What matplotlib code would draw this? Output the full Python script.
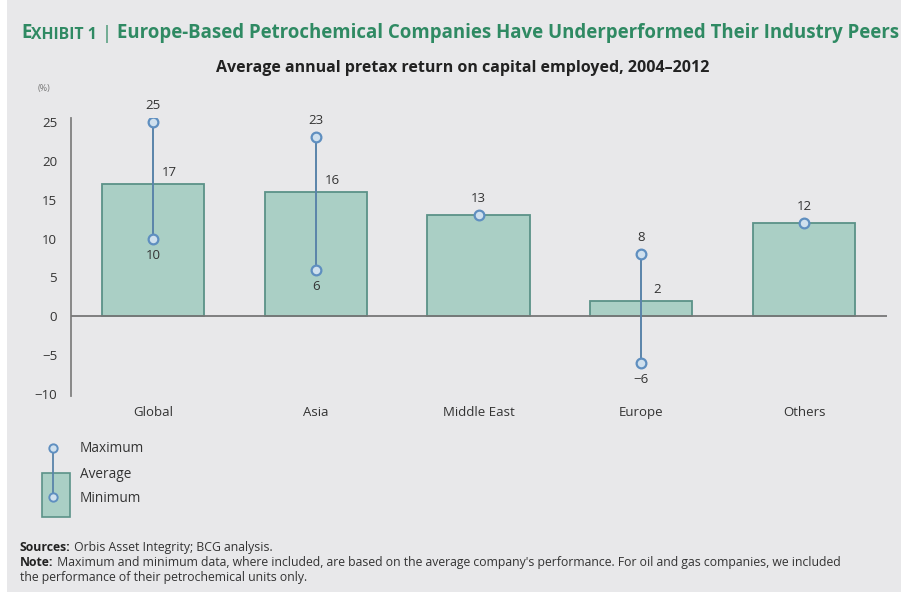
import numpy as np
import matplotlib
matplotlib.use('Agg')
import matplotlib.pyplot as plt
from matplotlib.patches import Rectangle

categories = ['Global', 'Asia', 'Middle East', 'Europe', 'Others']
avg_vals = [17, 16, 13, 2, 12]
max_vals = [25, 23, None, 8, None]
min_vals = [10, 6, None, -6, None]
yticks = [-10, -5, 0, 5, 10, 15, 20, 25]

BG = '#e8e8ea'
BAR = '#aacfc5'
BAR_EDGE = '#5b9288'
STEM = '#5a84aa'
DOT_FACE = '#cfe0ee'
DOT_EDGE = '#5f8fc0'
GREEN = '#2f8a63'
TXT = '#333333'

plt.rcParams['font.family'] = ['Open Sans', 'DejaVu Sans']

W, H = 901, 592
fig = plt.figure(figsize=(W / 100, H / 100), dpi=100, facecolor=BG)


def fx(px):
    return px / W


def fy(py):
    return 1 - py / H


def fmt(v):
    return str(v).replace('-', '\u2212')


def chain(prev, s, **kw):
    # next piece of text starts where the previous one ends, same baseline
    return plt.annotate(s, xy=(1, 0), xycoords=prev, va='bottom', ha='left',
                        annotation_clip=False, **kw)


# white strip at the left edge
fig.patches.append(Rectangle((0, 0), fx(7), 1, transform=fig.transFigure,
                             facecolor='white', edgecolor='none', zorder=0))

ax = fig.add_axes([fx(71), fy(396), fx(887 - 71), fy(118) - fy(396)])
ax.set_facecolor(BG)
x = np.arange(len(categories))

ax.bar(x, avg_vals, width=0.627, color=BAR, edgecolor=BAR_EDGE, linewidth=1.3, zorder=2)
ax.axhline(0, color='#777777', linewidth=1.3, zorder=3)

for i in range(len(categories)):
    hi, lo = max_vals[i], min_vals[i]
    if hi is not None:
        ax.plot([x[i], x[i]], [lo, hi], color=STEM, linewidth=1.4, zorder=4)
        ax.plot([x[i], x[i]], [hi, lo], 'o', ms=7, mfc=DOT_FACE, mec=DOT_EDGE, mew=1.6, zorder=5)
        ax.text(x[i], hi + 1.3, fmt(hi), ha='center', va='bottom', fontsize=9.5, color=TXT)
        ax.text(x[i], lo - 1.3, fmt(lo), ha='center', va='top', fontsize=9.5, color=TXT)
        ax.text(x[i] + 0.1, avg_vals[i] + 0.6, fmt(avg_vals[i]), ha='center', va='bottom',
                fontsize=9.5, color=TXT)
    else:
        ax.plot(x[i], avg_vals[i], 'o', ms=7, mfc=DOT_FACE, mec=DOT_EDGE, mew=1.6, zorder=5)
        ax.text(x[i], avg_vals[i] + 1.3, fmt(avg_vals[i]), ha='center', va='bottom',
                fontsize=9.5, color=TXT)

ax.set_xlim(-0.504, 4.51)
ax.set_ylim(-10.25, 25.5)
ax.set_yticks(yticks)
ax.set_yticklabels([fmt(t) for t in yticks], fontsize=9.5, color=TXT)
ax.set_xticks(x)
ax.set_xticklabels(categories, fontsize=9.5, color=TXT)
ax.tick_params(axis='x', length=0, pad=7)
ax.tick_params(axis='y', length=0, pad=10)
for s in ['top', 'right', 'bottom']:
    ax.spines[s].set_visible(False)
ax.spines['left'].set_color('#808080')
ax.spines['left'].set_linewidth(1.3)

# headings
t = fig.text(fx(21), fy(38), 'E', fontsize=13.5, fontweight='bold', color=GREEN, va='baseline')
t = chain(t, 'XHIBIT 1', fontsize=11.3, fontweight='bold', color=GREEN)
t = chain(t, ' | ', fontsize=13.5, fontweight='normal', color=GREEN)
chain(t, 'Europe-Based Petrochemical Companies Have Underperformed Their Industry Peers',
      fontsize=13.4, fontweight='bold', color=GREEN)
fig.text(fx(463), fy(68), 'Average annual pretax return on capital employed, 2004\u20132012',
         fontsize=11.5, fontweight='bold', color='#222222', ha='center', va='center')
fig.text(fx(38), fy(88), '(%)', fontsize=6.5, color='#777777', va='center')

# legend
fig.patches.append(Rectangle((fx(42), fy(517)), fx(28), fy(473) - fy(517), transform=fig.transFigure,
                             facecolor=BAR, edgecolor=BAR_EDGE, linewidth=1.2, zorder=2))
fig.lines.append(plt.Line2D([fx(53), fx(53)], [fy(448), fy(497)], transform=fig.transFigure,
                            color=STEM, linewidth=1.3, zorder=3))
for py in (448, 497):
    fig.lines.append(plt.Line2D([fx(53)], [fy(py)], transform=fig.transFigure, marker='o', ms=6,
                                mfc=DOT_FACE, mec=DOT_EDGE, mew=1.4, zorder=4))
for py, lab in [(449, 'Maximum'), (474, 'Average'), (499, 'Minimum')]:
    fig.text(fx(80), fy(py), lab, fontsize=9.8, color=TXT, va='center')

# footer
FS = 8.85
t = fig.text(fx(20), fy(551), 'Sources:', fontsize=FS, fontweight='bold', color='#222222', va='baseline')
chain(t, ' Orbis Asset Integrity; BCG analysis.', fontsize=FS, color=TXT)
t = fig.text(fx(20), fy(566), 'Note:', fontsize=FS, fontweight='bold', color='#222222', va='baseline')
chain(t, " Maximum and minimum data, where included, are based on the average company's "
      "performance. For oil and gas companies, we included", fontsize=FS, color=TXT)
fig.text(fx(20), fy(581), 'the performance of their petrochemical units only.', fontsize=FS,
         color=TXT, va='baseline')

fig.savefig('out.png', dpi=100, facecolor=BG)
